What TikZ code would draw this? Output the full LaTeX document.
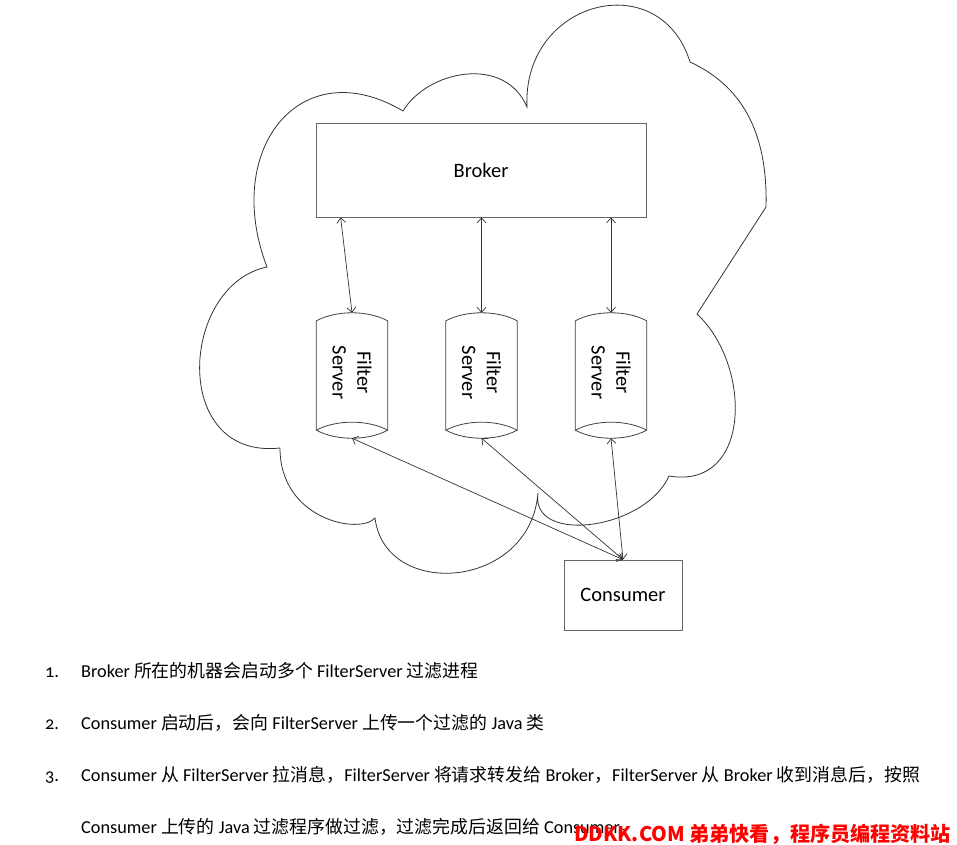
\documentclass[tikz,border=0pt]{standalone}
\usepackage{fontspec}
\setmainfont{Carlito}
\newfontfamily\cjk{Noto Sans CJK SC}[Scale=0.98]
\newfontfamily\wmfont{Noto Sans CJK SC}
\newfontfamily\onum{Carlito}[Numbers=OldStyle]
\usetikzlibrary{arrows.meta}
\newcommand\zh[1]{{\cjk #1}}
\begin{document}
\begin{tikzpicture}[x=1pt,y=-1pt,
  ln/.style={draw=black!80, line width=0.8pt},
  box/.style={draw=black!60, line width=0.8pt, inner sep=0pt},
  lbl/.style={font=\fontsize{20.5}{24.6}\selectfont},
  cyl/.style={draw=black!75, line width=0.8pt},
  fsnode/.style={minimum width=71pt, minimum height=125pt, inner sep=0pt},
  dbl/.style={{Straight Barb[length=5pt,width=9pt]}-{Straight Barb[length=5pt,width=9pt]}, draw=black!80, line width=0.7pt},
  txt/.style={font=\fontsize{18.25}{21.9}\selectfont, inner sep=0pt, anchor=base west},
  wm/.style={font=\wmfont\bfseries\fontsize{20.1}{24}\selectfont, text=red, inner sep=0pt, anchor=base west}]
\useasboundingbox (0,0) rectangle (957,844);

% cloud
\draw[ln] (267,267) .. controls (222,150) and (300,50) .. (403,111)
  .. controls (428,70) and (505,55) .. (527,107)
  .. controls (522,0) and (660,-35) .. (690,62)
  .. controls (740,85) and (768,130) .. (766,207)
  -- (697,314)
  .. controls (752,365) and (752,490) .. (669,476)
  .. controls (645,530) and (530,545) .. (538,493)
  .. controls (530,590) and (385,600) .. (375,518)
  .. controls (360,535) and (280,520) .. (280,448)
  .. controls (170,460) and (180,285) .. (267,267) -- cycle;

% broker and consumer
\node[box, lbl, minimum width=330pt, minimum height=94pt] (broker) at (481,170) {Broker};
\node[box, lbl, minimum width=118pt, minimum height=70pt] (cons) at (623,595) {Consumer};

% filter servers
\node[fsnode] (fs1) at (352,375.5) {};
\node[fsnode] (fs2) at (481.5,375.5) {};
\node[fsnode] (fs3) at (611,375.5) {};
\foreach \n in {fs1,fs2,fs3}{
  \draw[cyl] ([yshift=-8pt]\n.north west)
    .. controls ([xshift=20pt,yshift=2.7pt]\n.north west) and ([xshift=-20pt,yshift=2.7pt]\n.north east) .. ([yshift=-8pt]\n.north east)
    -- ([yshift=8pt]\n.south east)
    .. controls ([xshift=-20pt,yshift=-2.7pt]\n.south east) and ([xshift=20pt,yshift=-2.7pt]\n.south west) .. ([yshift=8pt]\n.south west)
    -- cycle;
  \draw[cyl] ([yshift=8pt]\n.south west)
    .. controls ([xshift=20pt,yshift=18.7pt]\n.south west) and ([xshift=-20pt,yshift=18.7pt]\n.south east) .. ([yshift=8pt]\n.south east);
  \node[lbl, rotate=-90, align=center, inner sep=0pt] (\n t) at ([yshift=3pt]\n.center) {Filter\\Server};
}

% connectors
\draw[dbl] ([xshift=25pt]broker.south west) -- (fs1.north);
\draw[dbl] (broker.south -| fs2.north) -- (fs2.north);
\draw[dbl] (broker.south -| fs3.north) -- (fs3.north);
\draw[dbl] (fs1.south) -- (cons.north);
\draw[dbl] (fs2.south) -- (cons.north);
\draw[dbl] (fs3.south) -- (cons.north);

% text
\node[txt] (n1) at (45,677) {\onum 1.};
\node[txt] (t1) at (81,677) {Broker \zh{所在的机器会启动多个} FilterServer \zh{过滤进程}};
\node[txt] (n2) at (45,729) {\onum 2.};
\node[txt] (t2) at (81,729) {Consumer \zh{启动后，会向} FilterServer \zh{上传一个过滤的} Java \zh{类}};
\node[txt] (n3) at (45,781) {\onum 3.};
\node[txt] (t3) at (81,781) {Consumer \zh{从} FilterServer \zh{拉消息，}FilterServer \zh{将请求转发给} Broker\zh{，}FilterServer \zh{从} Broker \zh{收到消息后，按照}};
\node[txt] (t4) at (81,833) {Consumer \zh{上传的} Java \zh{过滤程序做过滤，过滤完成后返回给} Consumer\zh{。}};

\node[wm] (wm) at (574,841) {DDKK.COM 弟弟快看，程序员编程资料站};
\end{tikzpicture}
\end{document}
